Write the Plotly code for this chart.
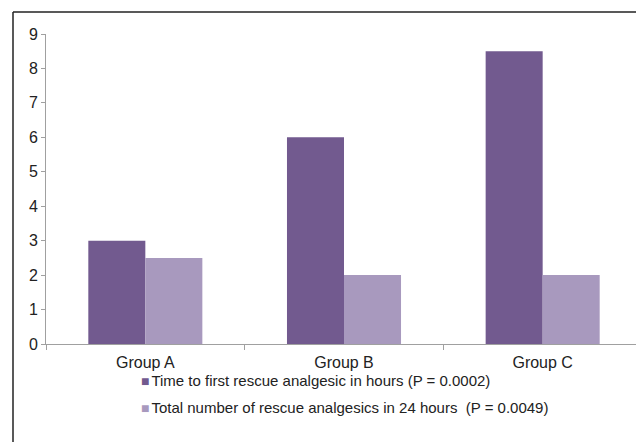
import plotly.graph_objects as go

categories = ["Group A", "Group B", "Group C"]
time_to_first = [3, 6, 8.5]
total_number = [2.5, 2, 2]
series_names = [
    "Time to first rescue analgesic in hours (P = 0.0002)",
    "Total number of rescue analgesics in 24 hours  (P = 0.0049)",
]
series_colors = ["#725a8f", "#a899be"]
y_ticks = [0, 1, 2, 3, 4, 5, 6, 7, 8, 9]

fig = go.Figure()
fig.add_trace(go.Bar(x=categories, y=time_to_first, name=series_names[0],
                     marker=dict(color=series_colors[0], line=dict(width=0))))
fig.add_trace(go.Bar(x=categories, y=total_number, name=series_names[1],
                     marker=dict(color=series_colors[1], line=dict(width=0))))

# page body has an 8px margin, so the figure is drawn 8px in from the window corner
OFF = 8
W, H = 644 - OFF, 442 - OFF
L, R, T, B = 46 - OFF, 2, 34 - OFF, 98
pw, ph = W - L - R, H - T - B

def px(x):
    return (x - OFF - L) / pw

def py(y):
    return (H - B - (y - OFF)) / ph

legend_ann = []
for i, (nm, col) in enumerate(zip(series_names, series_colors)):
    legend_ann.append(dict(
        xref="paper", yref="paper", x=px(139), y=py(380 + 27 * i),
        xanchor="left", yanchor="middle", showarrow=False,
        text=f"<span style='color:{col};font-size:14px'>■</span><span style='font-size:7px'>&nbsp;</span>{nm}",
        font=dict(size=15, color="#222"),
    ))

fig.update_layout(
    width=W, height=H,
    margin=dict(l=L, r=R, t=T, b=B, autoexpand=False),
    paper_bgcolor="white", plot_bgcolor="white",
    barmode="group", bargap=0.426, bargroupgap=0,
    font=dict(family="Liberation Sans, Arial, sans-serif", size=16, color="#222"),
    showlegend=False,
    xaxis=dict(showline=True, linecolor="#a0a0a0", linewidth=1, ticks="outside",
               tickson="boundaries", ticklen=5, tickcolor="#a0a0a0", showgrid=False,
               automargin=False, ticklabelstandoff=4,
               tickfont=dict(size=16, color="#222")),
    yaxis=dict(range=[0, 9], tickvals=y_ticks, showline=True, linecolor="#a0a0a0",
               linewidth=1, ticks="outside", ticklen=4, tickcolor="#a0a0a0",
               showgrid=False, zeroline=False, automargin=False,
               tickfont=dict(size=16, color="#222")),
    annotations=legend_ann,
    shapes=[
        dict(type="line", xref="paper", yref="paper", x0=px(13), x1=px(13),
             y0=py(12), y1=py(450), line=dict(color="#222", width=1.5)),
        dict(type="line", xref="paper", yref="paper", x0=px(13), x1=px(650),
             y0=py(12), y1=py(12), line=dict(color="#222", width=1.5)),
    ],
)

fig.write_html("out.html")
